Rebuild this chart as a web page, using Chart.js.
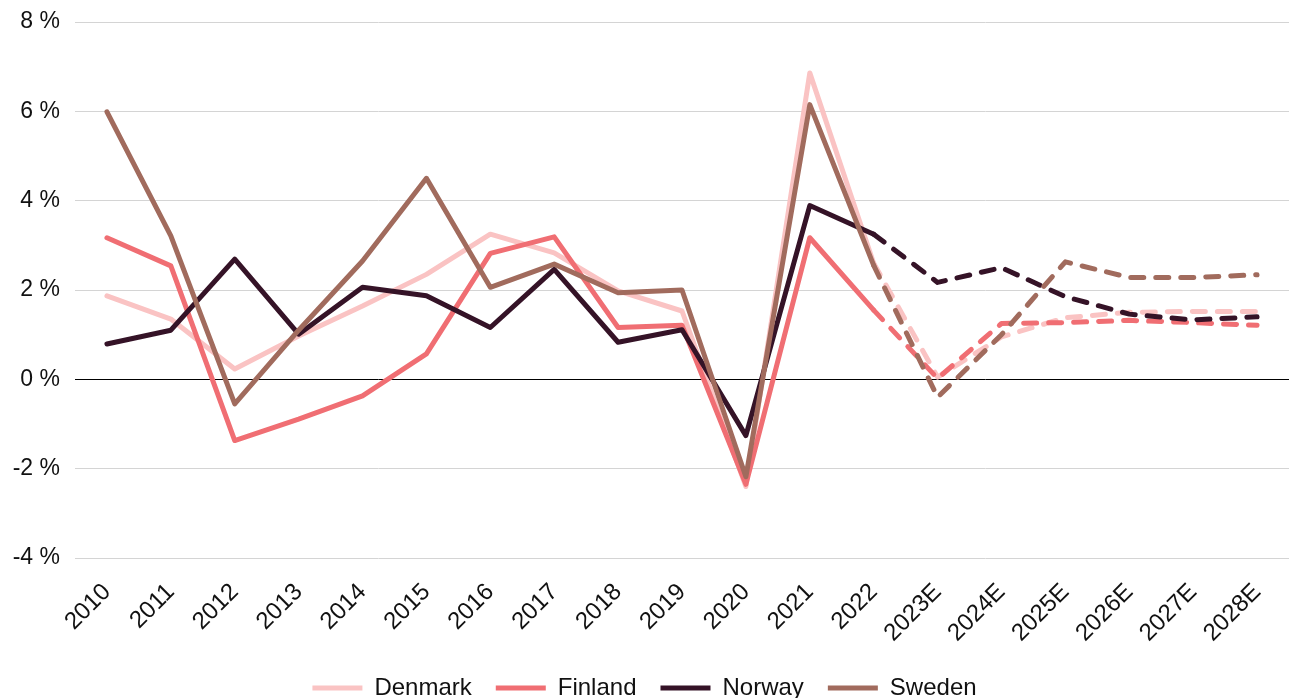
<!DOCTYPE html>
<html>
<head>
<meta charset="utf-8">
<script src="https://cdn.jsdelivr.net/npm/chart.js@4.4.0/dist/chart.umd.min.js"></script>
<style>
  html, body { margin: 0; padding: 0; background: #fff; overflow: hidden; }
  #wrap { position: relative; width: 1293px; height: 710px; }
</style>
</head>
<body>
<div id="wrap"><canvas id="c"></canvas></div>
<script>
const categories = ["2010","2011","2012","2013","2014","2015","2016","2017","2018","2019","2020","2021","2022","2023E","2024E","2025E","2026E","2027E","2028E"];
const denmark = [1.87, 1.35, 0.23, 0.97, 1.64, 2.35, 3.25, 2.83, 1.98, 1.53, -2.4, 6.86, 2.6, 0.05, 0.95, 1.38, 1.5, 1.52, 1.52];
const finland = [3.17, 2.54, -1.37, -0.89, -0.37, 0.57, 2.82, 3.19, 1.16, 1.21, -2.35, 3.17, 1.55, 0.02, 1.25, 1.27, 1.32, 1.27, 1.21];
const norway  = [0.79, 1.1, 2.69, 1.01, 2.06, 1.87, 1.16, 2.46, 0.83, 1.11, -1.26, 3.89, 3.25, 2.17, 2.5, 1.85, 1.46, 1.33, 1.4];
const sweden  = [5.99, 3.21, -0.55, 1.1, 2.65, 4.5, 2.06, 2.58, 1.94, 2.0, -2.18, 6.15, 2.55, -0.4, 1.0, 2.63, 2.28, 2.28, 2.34];
const forecastStartIndex = 12;

const FONT = "'Liberation Sans', Arial, sans-serif";
const dashSeg = { borderDash: ctx => ctx.p0DataIndex >= forecastStartIndex ? [13, 12] : undefined };

function ds(label, data, color, order) {
  return {
    label, data, order,
    borderColor: color, backgroundColor: color,
    borderWidth: 5, borderCapStyle: 'round', borderJoinStyle: 'round',
    pointRadius: 0, pointHoverRadius: 0, tension: 0, fill: false,
    segment: dashSeg
  };
}

new Chart(document.getElementById('c'), {
  type: 'line',
  data: {
    labels: categories,
    datasets: [
      ds('Denmark', denmark, '#FAC3C3', 4),
      ds('Finland', finland, '#F06E73', 3),
      ds('Norway', norway, '#351327', 2),
      ds('Sweden', sweden, '#A16B5D', 1)
    ]
  },
  options: {
    responsive: true,
    maintainAspectRatio: false,
    animation: false,
    layout: { padding: { left: 0, right: 4, top: 0, bottom: 0 } },
    plugins: {
      tooltip: { enabled: false },
      legend: {
        position: 'bottom',
        labels: {
          usePointStyle: true,
          pointStyle: 'line',
          pointStyleWidth: 50,
          boxHeight: 24,
          color: '#111',
          font: { family: FONT, size: 24 },
          padding: 24,
          sort: (a, b) => a.datasetIndex - b.datasetIndex
        }
      }
    },
    scales: {
      x: {
        offset: true,
        grid: { display: false, drawTicks: false },
        border: { display: false },
        afterFit: scale => { scale.height = 94; scale.paddingLeft = 0; scale.paddingRight = 0; },
        ticks: {
          color: '#111',
          font: { family: FONT, size: 24 },
          minRotation: 45, maxRotation: 45,
          padding: 20,
          autoSkip: false
        }
      },
      y: {
        min: -4, max: 8,
        afterFit: scale => { scale.width = 75; scale.paddingTop = 22; scale.paddingBottom = 0; },
        grid: {
          drawTicks: false,
          color: ctx => ctx.tick && ctx.tick.value === 0 ? '#000000' : '#d4d4d4',
          lineWidth: 1
        },
        border: { display: false },
        ticks: {
          stepSize: 2,
          color: '#111',
          font: { family: FONT, size: 23 },
          padding: 15,
          callback: v => v + ' %'
        }
      }
    }
  }
});
</script>
</body>
</html>
